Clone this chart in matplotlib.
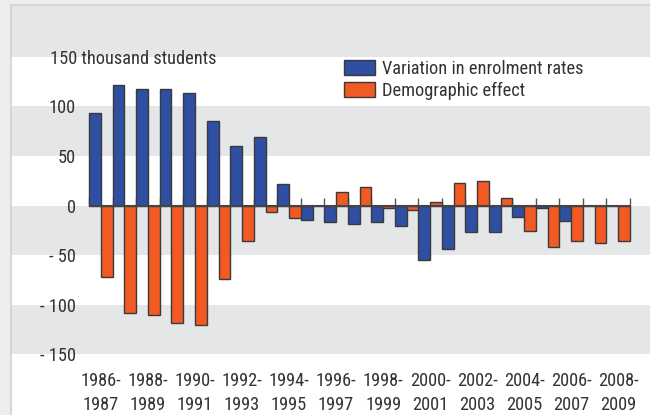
import numpy as np
import matplotlib
matplotlib.use('Agg')
import matplotlib.pyplot as plt
from matplotlib import font_manager
from matplotlib.transforms import blended_transform_factory

# look for a narrow / condensed sans, the reference uses a condensed face
def pick_font():
    fonts = font_manager.fontManager.ttflist
    for key in ['Roboto Condensed', 'Liberation Sans Narrow', 'Narrow', 'Condensed']:
        for f in fonts:
            tag = f.name + ' ' + f.fname
            if key.lower() in tag.lower() and f.style == 'normal' and f.weight in (400, 'normal', 'regular'):
                return f
    for f in fonts:
        if 'condensed' in str(f.stretch) and f.style == 'normal':
            return f
    return None

found = pick_font()
if found is not None:
    plt.rcParams['font.family'] = found.name
    plt.rcParams['font.stretch'] = found.stretch
    fsize = 13.2
else:
    plt.rcParams['font.family'] = 'DejaVu Sans'
    fsize = 11
plt.rcParams['font.size'] = fsize
plt.rcParams['text.color'] = '#333333'

periods = ['1986-1987', '1987-1988', '1988-1989', '1989-1990', '1990-1991', '1991-1992',
           '1992-1993', '1993-1994', '1994-1995', '1995-1996', '1996-1997', '1997-1998',
           '1998-1999', '1999-2000', '2000-2001', '2001-2002', '2002-2003', '2003-2004',
           '2004-2005', '2005-2006', '2006-2007', '2007-2008', '2008-2009']
enrolment = [93, 121, 117, 117, 113, 85, 60, 69, 22, -15, -17, -19, -17, -21,
             -55, -44, -27, -27, -12, -2, -16, 0, 0]
demographic = [-72, -108, -110, -118, -120, -74, -36, -7, -13, 0, 14, 19, -2, -4,
               4, 23, 25, 8, -26, -42, -36, -38, -36]
ytick_vals = [-150, -100, -50, 0, 50, 100]
ytick_labels = ['- 150', '- 100', '- 50', '0', '50', '100']
unit_label = '150 thousand students'
legend_labels = ['Variation in enrolment rates', 'Demographic effect']

blue = '#2f4fa2'
orange = '#f15a22'
band = '#e5e6e8'

fig = plt.figure(figsize=(6.5, 4.15), dpi=100, facecolor='#eeeeee')
ax = fig.add_axes([11/650, 0, 639/650, 410/415])
ax.set_facecolor('white')

x = np.arange(len(periods))
w = 0.5

# horizontal bands
for lo in [150, 50, -50, -150]:
    ax.axhspan(lo, lo + 50 if lo != 150 else 260, color=band, lw=0, zorder=0)

# small ticks between categories, above the zero line
ax.vlines(np.arange(len(periods) + 1) - 0.5, 0, 8, color='#555555', lw=1, zorder=1)

ax.bar(x - w/2, enrolment, w, color=blue, edgecolor='#3a3a3a', lw=1, zorder=2,
       label=legend_labels[0])
ax.bar(x + w/2, demographic, w, color=orange, edgecolor='#3a3a3a', lw=1, zorder=2,
       label=legend_labels[1])
ax.hlines(0, -0.5, len(periods) - 0.5, color='#444444', lw=1.5, zorder=3)

ax.set_xlim(-3.826, 23.353)
ax.set_ylim(-211, 202)

for s in ['right', 'bottom']:
    ax.spines[s].set_visible(False)
for s in ['left', 'top']:
    ax.spines[s].set_color('#d2d2d2')
    ax.spines[s].set_linewidth(1.2)

ax.set_yticks(ytick_vals, ytick_labels)
ax.tick_params(axis='y', length=0, pad=-46.8, labelcolor='#333333')
ax.set_xticks(x[::2], [p.replace('-', '-\n') for p in periods[::2]])
ax.tick_params(axis='x', length=0, pad=-31, labelcolor='#333333')
for t in ax.get_xticklabels():
    t.set_linespacing(1.4)

trans = blended_transform_factory(fig.transFigure, ax.transData)
ax.text(49.5/650, 150, unit_label, transform=trans, ha='left', va='center_baseline',
        color='#333333')

ax.legend(loc='upper left', bbox_to_anchor=(344/650, 1 - 60/415),
          bbox_transform=fig.transFigure, frameon=False, borderpad=0, borderaxespad=0,
          handlelength=1.68, handleheight=0.88, handletextpad=0.4, labelspacing=0.2)

fig.savefig('out.png', dpi=100, facecolor=fig.get_facecolor())
